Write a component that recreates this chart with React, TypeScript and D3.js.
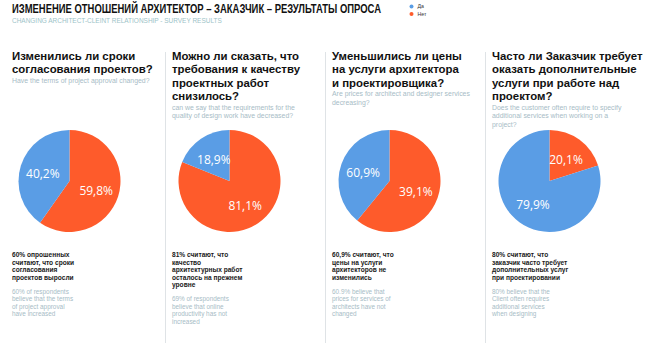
import React, { useLayoutEffect, useRef } from "react";
import * as d3 from "d3";

const W = 650;
const H = 345;

const title = "ИЗМЕНЕНИЕ ОТНОШЕНИЙ АРХИТЕКТОР – ЗАКАЗЧИК – РЕЗУЛЬТАТЫ ОПРОСА";
const subtitle = "CHANGING ARCHITECT-CLEINT RELATIONSHIP - SURVEY RESULTS";
const legendLabels = ["Да", "Нет"];

const questionsRu: string[][] = [
  ["Изменились ли сроки", "согласования проектов?"],
  ["Можно ли сказать, что", "требования к качеству", "проектных работ", "снизилось?"],
  ["Уменьшились ли цены", "на услуги архитектора", "и проектировщика?"],
  ["Часто ли Заказчик требует", "оказать дополнительные", "услуги при работе над", "проектом?"],
];
const questionsEn: string[][] = [
  ["Have the terms of project approval changed?"],
  ["can we say that the requirements for the", "quality of design work have decreased?"],
  ["Are prices for architect and designer services", "decreasing?"],
  ["Does the customer often require to specify", "additional services when working on a", "project?"],
];
const notesRu: string[][] = [
  ["60% опрошенных", "считают, что сроки", "согласования", "проектов выросли"],
  ["81% считают, что", "качество", "архитектурных работ", "осталось на прежнем", "уровне"],
  ["60,9% считают, что", "цены на услуги", "архитекторов не", "изменились"],
  ["80% считают, что", "заказчик часто требует", "дополнительных услуг", "при проектировании"],
];
const notesEn: string[][] = [
  ["60% of respondents", "believe that the terms", "of project approval", "have increased"],
  ["69% of respondents", "believe that online", "productivity has not", "increased"],
  ["60.9% believe that", "prices for services of", "architects have not", "changed"],
  ["80% believe that the", "Client often requires", "additional services", "when designing"],
];

// slice shares as drawn
const yesShare = [40.2, 18.9, 39.1, 79.9];
const noShare = [59.8, 81.1, 60.9, 20.1];
// labels as printed
const yesLabels = ["40,2%", "18,9%", "60,9%", "79,9%"];
const noLabels = ["59,8%", "81,1%", "39,1%", "20,1%"];

const BLUE = "#5a9de5";
const ORANGE = "#fe5b2b";
const GRAY = "#a7bcc6";
const FONT = "'Liberation Sans', Arial, sans-serif";
const LABEL_FONT = "'Open Sans', 'Noto Sans', sans-serif";

function FitText(props: {
  x: number;
  y: number;
  width: number;
  fontSize: number;
  fontWeight: number;
  fill: string;
  children: string;
}) {
  const ref = useRef<SVGTextElement>(null);
  useLayoutEffect(() => {
    const el = ref.current;
    if (!el) return;
    const len = el.getComputedTextLength();
    const s = len > 0 ? props.width / len : 1;
    el.setAttribute("transform", `translate(${props.x},${props.y}) scale(${s},1)`);
  });
  return (
    <text
      ref={ref}
      transform={`translate(${props.x},${props.y})`}
      fontFamily={FONT}
      fontWeight={props.fontWeight}
      fontSize={props.fontSize}
      fill={props.fill}
    >
      {props.children}
    </text>
  );
}

export default function App() {
  const colX = d3.scaleLinear().domain([0, 1]).range([5.5, 165.5]);
  const r = 51;
  const cy = 181;
  const pie = d3.pie<number>().sort(null).value((d) => d);
  const arc = d3.arc<d3.PieArcDatum<number>>().innerRadius(0).outerRadius(r);
  const labelArc = d3.arc<d3.PieArcDatum<number>>().innerRadius(28).outerRadius(28);

  return (
    <svg width={W} height={H} style={{ position: "absolute", left: 0, top: 0, background: "#fff" }}>
      <rect width={W} height={H} fill="#fff" />
      <FitText x={12} y={13.2} width={369} fontSize={13} fontWeight={700} fill="#111">{title}</FitText>
      <FitText x={12} y={23.2} width={210} fontSize={7.6} fontWeight={400} fill="#9cc3c8">{subtitle}</FitText>
      {legendLabels.map((l, i) => (
        <g key={l}>
          <circle cx={411.5} cy={6.6 + i * 7.4} r={2} fill={i === 0 ? BLUE : ORANGE} />
          <text x={417.5} y={8.4 + i * 7.4} fontFamily={FONT} fontSize={5.2} fill="#333">{l}</text>
        </g>
      ))}
      {[1, 2, 3].map((i) => (
        <line key={i} x1={colX(i)} x2={colX(i)} y1={52} y2={343} stroke="#dfe3e6" strokeWidth={1} />
      ))}
      {questionsRu.map((lines, i) => {
        const x0 = colX(i) + 6.5;
        const cx = colX(i) + 64;
        const enStart = 56 + lines.length * 13.3 - 2;
        const arcs = pie([noShare[i], yesShare[i]]);
        const labs = [noLabels[i], yesLabels[i]];
        const ruNoteStart = 255;
        const enNoteStart = ruNoteStart + notesRu[i].length * 7.5 + 6.5;
        return (
          <g key={i}>
            {lines.map((t, j) => (
              <text key={j} x={x0} y={56 + j * 13.3 + 4} fontFamily={FONT} fontWeight={700} fontSize={11.4} fill="#111">{t}</text>
            ))}
            {questionsEn[i].map((t, j) => (
              <text key={j} x={x0} y={enStart + j * 8.6 + 2.5} fontFamily={FONT} fontSize={6.9} fill={GRAY}>{t}</text>
            ))}
            <g transform={`translate(${cx},${cy})`}>
              {arcs.map((a, k) => (
                <path key={k} d={arc(a) || ""} fill={k === 0 ? ORANGE : BLUE} />
              ))}
              {arcs.map((a, k) => {
                const [lx, ly] = labelArc.centroid(a);
                return (
                  <text key={k} x={lx} y={ly + 1.5} dy="0.35em" textAnchor="middle" fontFamily={LABEL_FONT} fontSize={12} fill="#fff">
                    {labs[k]}
                  </text>
                );
              })}
            </g>
            {notesRu[i].map((t, j) => (
              <text key={j} x={x0} y={ruNoteStart + j * 7.5 + 2.4} fontFamily={FONT} fontWeight={700} fontSize={6.6} fill="#1a1a1a">{t}</text>
            ))}
            {notesEn[i].map((t, j) => (
              <text key={j} x={x0} y={enNoteStart + j * 7.4 + 2.3} fontFamily={FONT} fontSize={6.4} fill={GRAY}>{t}</text>
            ))}
          </g>
        );
      })}
    </svg>
  );
}
